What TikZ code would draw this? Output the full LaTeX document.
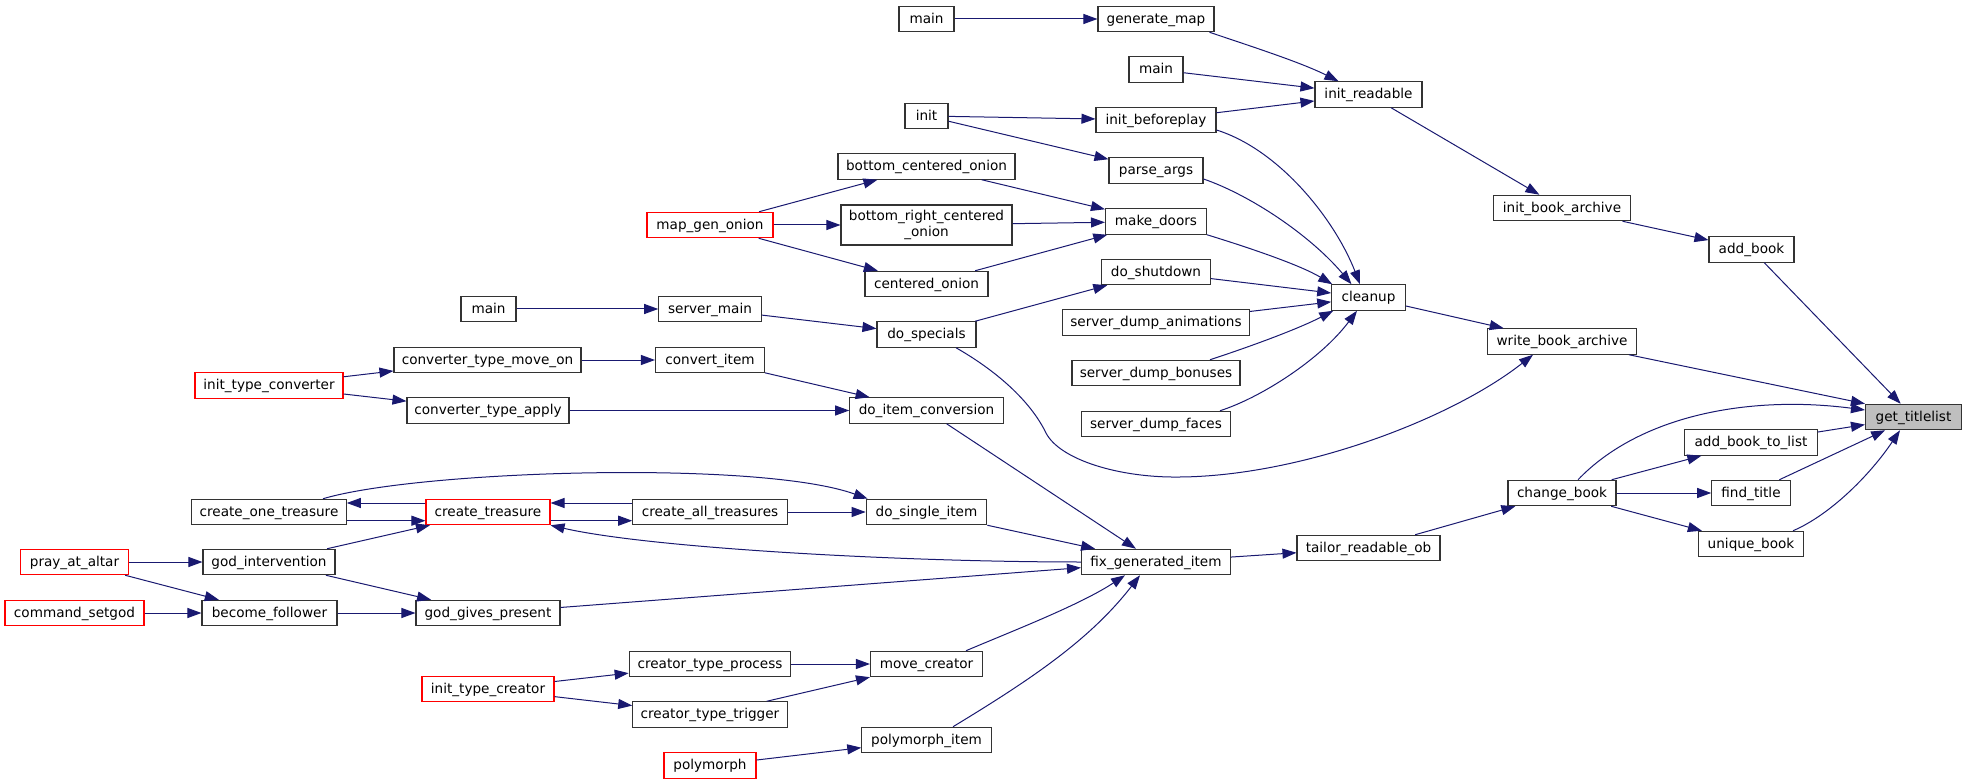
\documentclass[tikz,border=0pt]{standalone}
\usepackage{fontspec}
\setmainfont{DejaVu Sans}
\usetikzlibrary{arrows.meta,calc}
\definecolor{edgec}{HTML}{191970}
\definecolor{grayfill}{HTML}{BFBFBF}
\begin{document}
\begin{tikzpicture}[x=0.75pt,y=-0.75pt,
  fn/.style={draw=black!80, line width=0.8pt, fill=white, inner sep=0pt,
    minimum height=19.1pt, text height=8pt, text depth=1.4pt,
    font=\fontsize{10.2}{12}\selectfont},
  rn/.style={fn, draw=red},
  bw/.style={minimum width=#1*0.75pt},
  cl/.style={draw=edgec, line width=0.75pt, -{Triangle[length=10.5pt,width=7.5pt]}}]
\useasboundingbox (0,0) rectangle (1967,784);

% column 1
\node[rn,bw=108] (pray) at (74.5,562) {pray\_at\_altar};
\node[rn,bw=139] (setgod) at (74.5,613) {command\_setgod};
% column 2
\node[rn,bw=148] (itconv) at (269,385.5) {init\_type\_converter};
\node[fn,bw=154.5] (cone) at (269,512) {create\_one\_treasure};
\node[fn,bw=132] (godint) at (269,562) {god\_intervention};
\node[fn,bw=135] (become) at (269.5,613) {become\_follower};
% column 3
\node[fn,bw=55] (main3) at (488.5,309) {main};
\node[fn,bw=187] (ctmo) at (487.5,360) {converter\_type\_move\_on};
\node[fn,bw=162] (cta) at (488,410.5) {converter\_type\_apply};
\node[rn,bw=124] (ctreas) at (488,512) {create\_treasure};
\node[fn,bw=144] (ggp) at (488,613) {god\_gives\_present};
\node[rn,bw=132] (itcre) at (488,689) {init\_type\_creator};
% column 4
\node[rn,bw=126] (mgo) at (710,225) {map\_gen\_onion};
\node[fn,bw=102.5] (smain) at (710,309) {server\_main};
\node[fn,bw=109] (citem) at (710,360) {convert\_item};
\node[fn,bw=154.5] (cat) at (710,512) {create\_all\_treasures};
\node[fn,bw=161.6] (ctp) at (710,664) {creator\_type\_process};
\node[fn,bw=154.5] (ctt) at (710,714.5) {creator\_type\_trigger};
\node[rn,bw=92] (poly) at (710,765.5) {polymorph};
% column 5
\node[fn,bw=55] (main1) at (926.5,19) {main};
\node[fn,bw=43] (init) at (926.5,116) {init};
\node[fn,bw=177] (bco) at (926.5,166.5) {bottom\_centered\_onion};
\node[fn,bw=171,minimum height=30pt,align=center,text height=,text depth=] (brco) at (926.5,225) {bottom\_right\_centered\\\_onion};
\node[fn,bw=123] (co) at (926.5,284) {centered\_onion};
\node[fn,bw=99] (dospec) at (926.5,334.5) {do\_specials};
\node[fn,bw=153.5] (dic) at (926.5,410.5) {do\_item\_conversion};
\node[fn,bw=120.6] (dsi) at (926.5,512) {do\_single\_item};
\node[fn,bw=112] (mc) at (926.5,664) {move\_creator};
\node[fn,bw=129.4] (pitem) at (926.5,740) {polymorph\_item};
% column 6
\node[fn,bw=116] (genmap) at (1156,19) {generate\_map};
\node[fn,bw=54] (main2) at (1156,69.5) {main};
\node[fn,bw=120] (ibp) at (1156,120) {init\_beforeplay};
\node[fn,bw=94] (pargs) at (1156,170.5) {parse\_args};
\node[fn,bw=101] (mdoors) at (1156,221.5) {make\_doors};
\node[fn,bw=109] (dshut) at (1156,272) {do\_shutdown};
\node[fn,bw=186.5] (sda) at (1156,322.5) {server\_dump\_animations};
\node[fn,bw=168] (sdb) at (1156,373) {server\_dump\_bonuses};
\node[fn,bw=149] (sdf) at (1156,424) {server\_dump\_faces};
\node[fn,bw=149] (fix) at (1156,562) {fix\_generated\_item};
% column 7
\node[fn,bw=107] (iread) at (1368.5,94.5) {init\_readable};
\node[fn,bw=73.5] (cleanup) at (1368.5,297.5) {cleanup};
\node[fn,bw=143] (tailor) at (1368.5,548) {tailor\_readable\_ob};
% column 8
\node[fn,bw=137] (iba) at (1562,208) {init\_book\_archive};
\node[fn,bw=149] (wba) at (1562,341.5) {write\_book\_archive};
\node[fn,bw=108] (cbook) at (1562,493) {change\_book};
% column 9
\node[fn,bw=85] (abook) at (1751.5,249.5) {add\_book};
\node[fn,bw=132.5] (abtl) at (1751,442.5) {add\_book\_to\_list};
\node[fn,bw=78.5] (ftitle) at (1751,493) {find\_title};
\node[fn,bw=105] (ubook) at (1751,544) {unique\_book};
% column 10
\node[fn,bw=96,fill=grayfill] (gtl) at (1913.5,417) {get\_titlelist};

% edges
\draw[cl] (main1) -- (genmap);
\draw[cl] ($(genmap.south east)+(-5,0)$) .. controls (1250,46) and (1300,62) .. ($(iread.north west)+(24,0)$);
\draw[cl] (main2) -- (iread);
\draw[cl] (ibp) -- (iread);
\draw[cl] (init) -- (ibp);
\draw[cl] (init) -- (pargs);
\draw[cl] ($(ibp.east)+(0,10)$) .. controls (1280,150) and (1335,220) .. ($(cleanup.north)+(-8.5,0)$);
\draw[cl] ($(pargs.east)+(0,8.5)$) .. controls (1250,195) and (1310,235) .. ($(cleanup.north)+(-17,0)$);
\draw[cl] (mgo) -- (bco);
\draw[cl] (mgo) -- (brco);
\draw[cl] (mgo) -- (co);
\draw[cl] (bco) -- (mdoors);
\draw[cl] (brco) -- (mdoors);
\draw[cl] (co) -- (mdoors);
\draw[cl] (mdoors.south east) .. controls (1250,248) and (1300,265) .. ($(cleanup.north west)+(1,0)$);
\draw[cl] (dshut) -- (cleanup);
\draw[cl] (sda) -- (cleanup);
\draw[cl] ($(sdb.north)+(54,0)$) .. controls (1255,345) and (1300,328) .. ($(cleanup.south west)+(2,0)$);
\draw[cl] ($(sdf.north)+(64,0)$) .. controls (1260,398) and (1320,360) .. ($(cleanup.south)+(-11.5,0)$);
\draw[cl] (dospec) -- (dshut);
\draw[cl] (main3) -- (smain);
\draw[cl] (smain) -- (dospec);
\draw[cl] ($(dospec.south)+(29.5,0)$) .. controls (995,370) and (1030,400) .. (1046,433)
   .. controls (1060,460) and (1120,478) .. (1180,477)
   .. controls (1300,476) and (1450,420) .. ($(wba.south)+(-29,0)$);
\draw[cl] (iread) -- (iba);
\draw[cl] (iba) -- (abook);
\draw[cl] (abook) -- (gtl);
\draw[cl] (cleanup) -- (wba);
\draw[cl] ($(wba.south east)+(-8,0)$) -- (gtl.north west);
\draw[cl] (itconv) -- (ctmo);
\draw[cl] (itconv) -- (cta);
\draw[cl] (ctmo) -- (citem);
\draw[cl] (citem) -- (dic);
\draw[cl] (cta) -- (dic);
\draw[cl] (dic) -- (fix);
\draw[cl] ($(cone.north)+(54,0)$) .. controls (420,470) and (760,460) .. ($(dsi.north west)+(2,0)$);
\draw[cl] ($(ctreas.west)+(0,-9)$) -- ($(cone.east)+(0,-9)$);
\draw[cl] ($(cone.east)+(0,8.7)$) -- ($(ctreas.west)+(0,8.7)$);
\draw[cl] ($(cat.west)+(0,-9)$) -- ($(ctreas.east)+(0,-9)$);
\draw[cl] ($(ctreas.east)+(0,8.7)$) -- ($(cat.west)+(0,8.7)$);
\draw[cl] (cat) -- (dsi);
\draw[cl] (fix.west) .. controls (900,562) and (650,548) .. (ctreas.south east);
\draw[cl] (godint) -- (ctreas);
\draw[cl] (dsi) -- (fix);
\draw[cl] (ggp) -- (fix);
\draw[cl] (pray) -- (godint);
\draw[cl] (pray) -- (become);
\draw[cl] (setgod) -- (become);
\draw[cl] (godint) -- (ggp);
\draw[cl] (become) -- (ggp);
\draw[cl] (fix) -- (tailor);
\draw[cl] (tailor) -- (cbook);
\draw[cl] (itcre) -- (ctp);
\draw[cl] (itcre) -- (ctt);
\draw[cl] (ctp) -- (mc);
\draw[cl] (ctt) -- (mc);
\draw[cl] ($(mc.north)+(39.5,0)$) .. controls (1010,632) and (1080,605) .. ($(fix.south)+(-31,0)$);
\draw[cl] ($(pitem.north)+(26.5,0)$) .. controls (1030,680) and (1090,640) .. ($(fix.south)+(-16,0)$);
\draw[cl] (poly) -- (pitem);
\draw[cl] ($(cbook.north)+(16,0)$) .. controls (1640,415) and (1750,395) .. ($(gtl.west)+(0,-7)$);
\draw[cl] (cbook) -- (abtl);
\draw[cl] (cbook) -- (ftitle);
\draw[cl] (cbook) -- (ubook);
\draw[cl] (abtl) -- (gtl);
\draw[cl] (ftitle) -- (gtl);
\draw[cl] ($(ubook.north)+(42,0)$) .. controls (1830,515) and (1870,475) .. ($(gtl.south)+(-13.5,0)$);
\end{tikzpicture}
\end{document}
